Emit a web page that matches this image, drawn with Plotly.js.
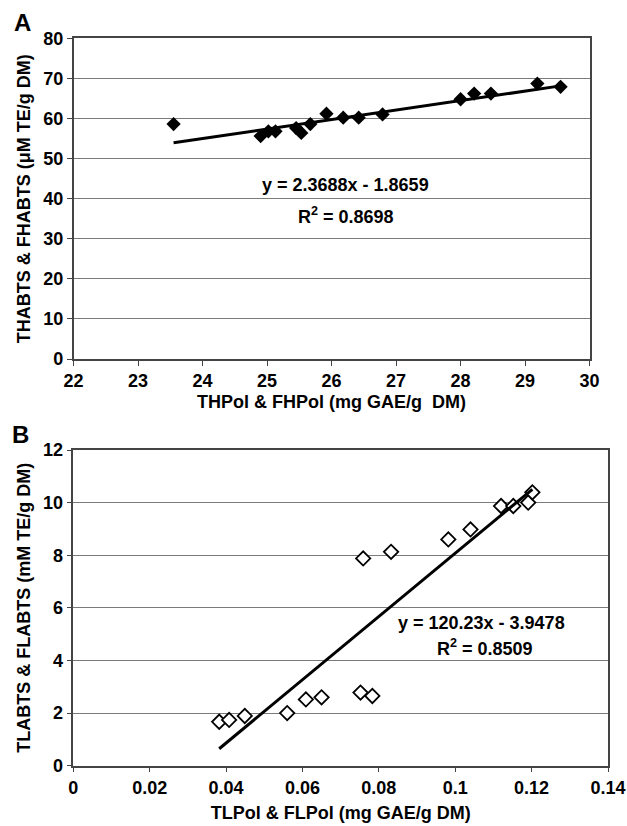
<!DOCTYPE html>
<html>
<head>
<meta charset="utf-8">
<script src="https://cdn.plot.ly/plotly-3.0.1.min.js"></script>
<style>html,body{margin:0;padding:0;background:#fff;}#chart{width:627px;height:826px;}</style>
</head>
<body>
<div id="chart"></div>
<script>
// Panel A: THPol & FHPol vs THABTS & FHABTS
const thpol  = [23.55, 24.90, 25.02, 25.13, 25.45, 25.53, 25.67, 25.92, 26.18, 26.42, 26.79, 28.00, 28.21, 28.47, 29.19, 29.55];
const thabts = [58.6, 55.6, 56.8, 56.8, 57.6, 56.4, 58.6, 61.2, 60.2, 60.2, 61.0, 64.8, 66.2, 66.2, 68.7, 67.9];
const slopeA = 2.3688, interceptA = -1.8659;
const eqA = "y = 2.3688x - 1.8659";
const r2A = "R<sup>2</sup> = 0.8698";

// Panel B: TLPol & FLPol vs TLABTS & FLABTS
const tlpol  = [0.0382, 0.0408, 0.0449, 0.0560, 0.0609, 0.0650, 0.0752, 0.0783, 0.0759, 0.0832, 0.0982, 0.1040, 0.1120, 0.1152, 0.1191, 0.1202];
const tlabts = [1.67, 1.74, 1.89, 2.00, 2.52, 2.60, 2.78, 2.65, 7.88, 8.13, 8.60, 8.98, 9.87, 9.87, 10.0, 10.39];
const slopeB = 120.23, interceptB = -3.9478;
const eqB = "y = 120.23x - 3.9478";
const r2B = "R<sup>2</sup> = 0.8509";

const xTicksA = [22, 23, 24, 25, 26, 27, 28, 29, 30];
const yTicksA = [0, 10, 20, 30, 40, 50, 60, 70, 80];
const xTicksB = [0, 0.02, 0.04, 0.06, 0.08, 0.1, 0.12, 0.14];
const yTicksB = [0, 2, 4, 6, 8, 10, 12];

function trend(xs, m, b) {
  const lo = Math.min(...xs), hi = Math.max(...xs);
  return {x: [lo, hi], y: [m * lo + b, m * hi + b]};
}
const tA = trend(thpol, slopeA, interceptA);
const tB = trend(tlpol, slopeB, interceptB);

const FONT = "Liberation Sans, Arial, Helvetica, sans-serif";
const traces = [
  {x: thpol, y: thabts, type: "scatter", mode: "markers", xaxis: "x", yaxis: "y",
   marker: {symbol: "diamond", size: 11, color: "#000"}},
  {x: tA.x, y: tA.y, type: "scatter", mode: "lines", xaxis: "x", yaxis: "y",
   line: {color: "#000", width: 3}},
  {x: tlpol, y: tlabts, type: "scatter", mode: "markers", xaxis: "x2", yaxis: "y2",
   marker: {symbol: "diamond", size: 11, color: "#fff", line: {color: "#000", width: 1.8}}},
  {x: tB.x, y: tB.y, type: "scatter", mode: "lines", xaxis: "x2", yaxis: "y2",
   line: {color: "#000", width: 3}}
];

function ax(extra) {
  return Object.assign({
    showline: true, linecolor: "#444", linewidth: 1.5, mirror: true,
    ticks: "outside", ticklen: 5, tickcolor: "#444", tickwidth: 1.2,
    tickfont: {family: FONT, size: 18, color: "#000", weight: "bold"},
    zeroline: false, fixedrange: true
  }, extra);
}
const titleFont = {family: FONT, size: 18, color: "#000", weight: "bold"};
const annFont = {family: FONT, size: 18, color: "#000", weight: "bold"};

const layout = {
  width: 627, height: 826,
  margin: {l: 0, r: 0, t: 0, b: 0},
  paper_bgcolor: "#fff", plot_bgcolor: "#fff",
  showlegend: false,
  font: {family: FONT, color: "#000"},
  xaxis: ax({
    domain: [73.6/627, 589.6/627], range: [22, 30], tickvals: xTicksA,
    showgrid: false, anchor: "y",
    title: {text: "THPol &amp; FHPol (mg GAE/g&nbsp; DM)", font: titleFont, standoff: 5}
  }),
  yaxis: ax({
    domain: [1 - 359/826, 1 - 38.3/826], range: [0, 80], tickvals: yTicksA,
    showgrid: true, gridcolor: "#7a7a7a", gridwidth: 1.2, anchor: "x",
    title: {text: "THABTS &amp; FHABTS (μM TE/g DM)", font: titleFont, standoff: 8}
  }),
  xaxis2: ax({
    domain: [73.3/627, 608/627], range: [0, 0.14], tickvals: xTicksB,
    showgrid: false, anchor: "y2",
    title: {text: "TLPol &amp; FLPol (mg GAE/g DM)", font: titleFont, standoff: 9}
  }),
  yaxis2: ax({
    domain: [1 - 765.7/826, 1 - 450/826], range: [0, 12], tickvals: yTicksB,
    showgrid: true, gridcolor: "#7a7a7a", gridwidth: 1.2, anchor: "x2",
    title: {text: "TLABTS &amp; FLABTS (mM TE/g DM)", font: titleFont, standoff: 8}
  }),
  annotations: [
    {text: "A", xref: "paper", yref: "paper", x: 22/627, y: 1 - 22/826, showarrow: false,
     font: {family: FONT, size: 24, weight: "bold"}, xanchor: "center", yanchor: "middle"},
    {text: "B", xref: "paper", yref: "paper", x: 20/627, y: 1 - 435/826, showarrow: false,
     font: {family: FONT, size: 24, weight: "bold"}, xanchor: "center", yanchor: "middle"},
    {text: eqA, xref: "x", yref: "y", x: 26.22, y: 43.4, showarrow: false, font: annFont},
    {text: r2A, xref: "x", yref: "y", x: 26.22, y: 35.9, showarrow: false, font: annFont},
    {text: eqB, xref: "x2", yref: "y2", x: 0.107, y: 5.42, showarrow: false, font: annFont},
    {text: r2B, xref: "x2", yref: "y2", x: 0.1077, y: 4.51, showarrow: false, font: annFont}
  ]
};

Plotly.newPlot("chart", traces, layout, {displayModeBar: false});
</script>
</body>
</html>
